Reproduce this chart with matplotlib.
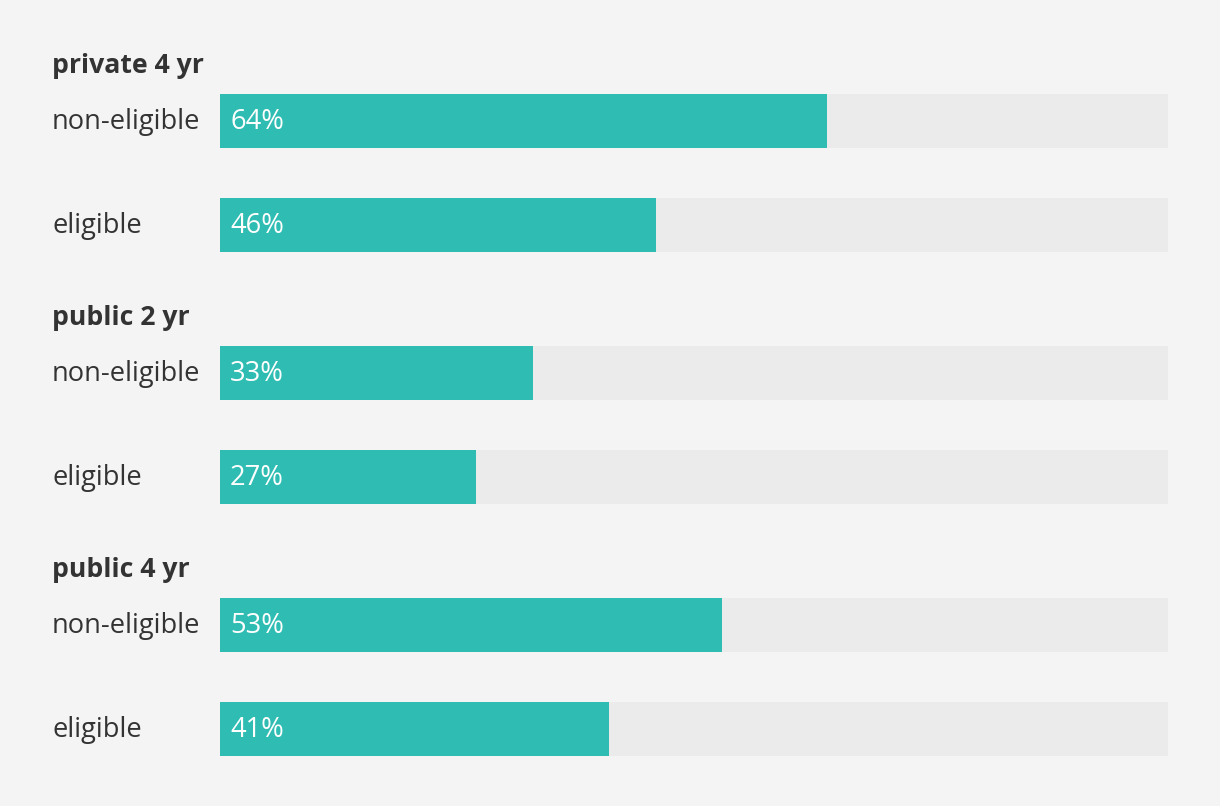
import matplotlib.pyplot as plt

groups = ['private 4 yr', 'public 2 yr', 'public 4 yr']
labels = ['non-eligible', 'eligible']
values = [[64, 46], [33, 27], [53, 41]]

teal = '#2fbdb3'
track = '#ebebeb'
bg = '#f4f4f4'
dark = '#333333'

plt.rcParams['font.family'] = ['Open Sans', 'DejaVu Sans']

W, H = 1220, 806
fig = plt.figure(figsize=(W / 100, H / 100), dpi=100, facecolor=bg)
# axes spans the bar track horizontally, y in pixel-like layout units
left, right = 220, 1168
ax = fig.add_axes([left / W, 0, (right - left) / W, 1])
ax.set_facecolor(bg)
ax.set_xlim(0, 100)
ax.set_ylim(H, 0)
ax.axis('off')

lab_x = (52 - left) / (right - left) * 100
pct_x = (230 - left) / (right - left) * 100

first_row = 121
row_gap = 104
group_gap = 252
bar_h = 54
fs = 19.6

for g, name in enumerate(groups):
    y0 = first_row + g * group_gap
    ax.text(lab_x, y0 - 55, name, fontsize=19.2, fontweight='bold', color=dark,
            va='center', ha='left', clip_on=False)
    for r, lab in enumerate(labels):
        y = y0 + r * row_gap
        v = values[g][r]
        ax.barh(y, 100, height=bar_h, color=track, left=0)
        ax.barh(y, v, height=bar_h, color=teal, left=0)
        ax.text(lab_x, y + 1, lab, fontsize=fs, color=dark, va='center', ha='left',
                clip_on=False)
        ax.text(pct_x, y + 1, f'{v}%', fontsize=fs, color='white', va='center',
                ha='left')

fig.savefig('out.png', dpi=100, facecolor=bg)
